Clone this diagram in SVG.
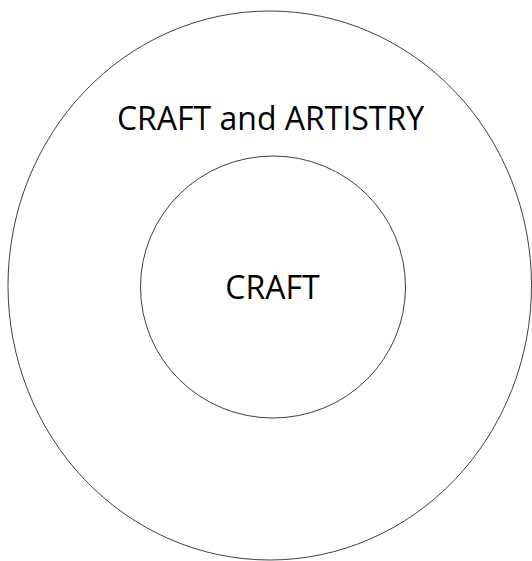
<svg xmlns="http://www.w3.org/2000/svg" width="532" height="561" viewBox="0 0 532 561">
<style>
.ring{fill:none;stroke:#404040;stroke-width:1}
.lbl{font-family:"Open Sans","Liberation Sans",sans-serif;font-size:32px;fill:#000;text-anchor:middle}
</style>
<rect width="532" height="561" fill="#fff"/>
<g id="outer">
<ellipse class="ring" cx="269.75" cy="285.5" rx="261.75" ry="274.5"/>
<text class="lbl" x="270.5" y="130">CRAFT and ARTISTRY</text>
</g>
<g id="inner">
<ellipse class="ring" cx="273" cy="287" rx="132.5" ry="131"/>
<text class="lbl" x="272.5" y="299">CRAFT</text>
</g>
<g id="connectors"/>
</svg>
